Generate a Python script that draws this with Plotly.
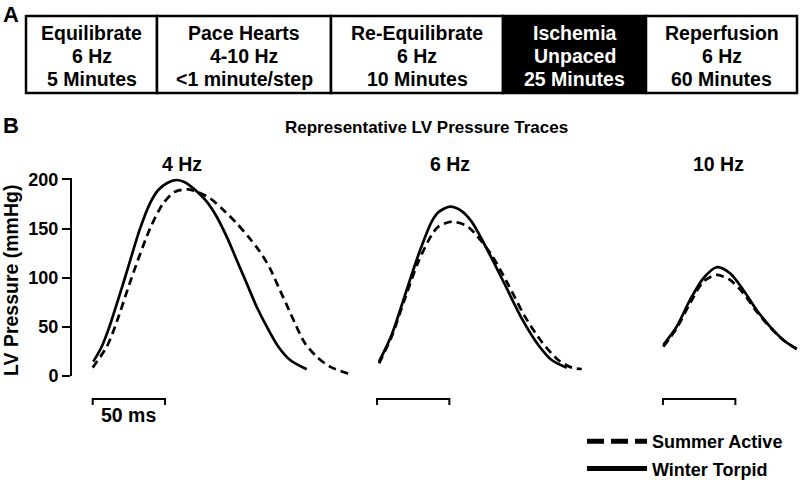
import plotly.graph_objects as go

# ---------------- data ----------------
# Protocol timeline (panel A)
STAGE_NAMES = ["Equilibrate", "Pace Hearts", "Re-Equilibrate", "Ischemia", "Reperfusion"]
STAGE_RATES = ["6 Hz", "4-10 Hz", "6 Hz", "Unpaced", "6 Hz"]
STAGE_DURATIONS = ["5 Minutes", "<1 minute/step", "10 Minutes", "25 Minutes", "60 Minutes"]
STAGE_HIGHLIGHT = [False, False, False, True, False]

# Pressure traces (panel B): time (ms) and LV pressure (mmHg)
PANEL_LABELS = ["4 Hz", "6 Hz", "10 Hz"]
SERIES_NAMES = ["Summer Active", "Winter Torpid"]

sa_4hz_t = [0, 9.7, 15.4, 26.9, 39.6, 48.8, 56.9, 66.1, 71.9, 81.1, 90.3, 99.5, 107.5, 115.6, 122.5,
            128.3, 134.1, 139.8, 146.7, 154.8, 164, 177.8]
sa_4hz_p = [8.5, 29.8, 50, 100, 150, 175.8, 187.6, 190, 187.6, 180.9, 169, 155.4, 141.8, 126.5, 109.6,
            90.9, 72.3, 53.6, 33.3, 19.6, 9.5, 2]
wt_4hz_t = [0.4, 6.2, 11.5, 22.3, 32.7, 39.6, 45.3, 51.5, 58, 64, 69.5, 78.8, 85.7, 92.6, 99.5, 106.4,
            113.3, 120.3, 128.3, 136.4, 147.9]
wt_4hz_p = [14.6, 29.8, 50, 100, 150, 175.8, 189.3, 196.5, 199.5, 197, 191, 177.4, 162.1, 141.8, 118.1,
            94.4, 70.5, 50.2, 29.8, 16.3, 6.8]

sa_6hz_t = [1.4, 10.1, 19.4, 28.6, 37.8, 42.4, 51.6, 60.8, 65.4, 79.2, 90.8, 102.3, 113.8, 125.3, 134.6,
            141.5]
sa_6hz_p = [12.9, 40, 79.1, 116.4, 143.6, 152, 157.1, 153.7, 148.7, 123.2, 92.7, 60.4, 34.9, 16.3, 8.5,
            7.1]
wt_6hz_t = [1.4, 10.1, 19.4, 28.6, 37.8, 42.4, 50.4, 58.5, 65.4, 76.9, 88.5, 100, 111.5, 120.7, 131.1]
wt_6hz_p = [14.6, 41.8, 82.5, 123.2, 157.1, 166.6, 172.4, 167.9, 157.1, 126.6, 92.7, 58.7, 31.6, 16.3,
            8.5]

sa_10hz_t = [0.2, 9.4, 18.7, 27.9, 37.1, 46.3, 55.5, 64.7, 74, 83.1, 92.4]
sa_10hz_p = [29.8, 48.6, 74, 96, 102.9, 97.8, 84.2, 65.5, 49.6, 36.7, 27.5]
wt_10hz_t = [0.2, 9.4, 18.7, 27.9, 37.1, 46.3, 55.5, 64.7, 74, 83.1, 92.4]
wt_10hz_p = [31.6, 50.2, 77.4, 99.5, 110.7, 104.6, 87.6, 67.2, 50.2, 36.7, 27.5]

Y_TICKS = [0, 50, 100, 150, 200]
SCALE_BAR_MS = 50

# ---------------- layout constants (pixels) ----------------
W, H = 800, 480
FONT = "Liberation Sans, Arial, Helvetica, sans-serif"
PX_PER_MS = 1.447
PX_PER_MMHG = 0.9825
Y0_PX = 376.0                     # pixel row of 0 mmHg
Y_RANGE = [-0.5, 202]
PANEL_DOMAINS_PX = [(72, 360), (370, 592), (655, 800)]
PANEL_ORIGINS_PX = [92.7, 377.0, 663.0]
PANEL_LABEL_X = [182, 450, 718]
BIG = 19.5


def px(x):
    return x / W


def py(y):
    return 1 - y / H


def bold(size, color="black"):
    return dict(family=FONT, size=size, weight="bold", color=color)


fig = go.Figure()

axis_names = ["x", "x2", "x3"]
sa_t = [sa_4hz_t, sa_6hz_t, sa_10hz_t]
sa_p = [sa_4hz_p, sa_6hz_p, sa_10hz_p]
wt_t = [wt_4hz_t, wt_6hz_t, wt_10hz_t]
wt_p = [wt_4hz_p, wt_6hz_p, wt_10hz_p]

for i in range(3):
    fig.add_trace(go.Scatter(x=sa_t[i], y=sa_p[i], mode="lines", xaxis=axis_names[i], yaxis="y",
                             line=dict(color="black", width=2.7, dash="8px,5px", shape="spline", smoothing=0.8),
                             showlegend=False, hoverinfo="skip"))
    fig.add_trace(go.Scatter(x=wt_t[i], y=wt_p[i], mode="lines", xaxis=axis_names[i], yaxis="y",
                             line=dict(color="black", width=2.7, shape="spline", smoothing=0.8),
                             showlegend=False, hoverinfo="skip"))

# legend entries
fig.add_trace(go.Scatter(x=[None], y=[None], mode="lines", name=SERIES_NAMES[0], legendgroup="a",
                         line=dict(color="black", width=5, dash="17px,7px")))
fig.add_trace(go.Scatter(x=[None], y=[None], mode="lines", name=SERIES_NAMES[1], legendgroup="b",
                         line=dict(color="black", width=5)))

y_bottom_px = Y0_PX - Y_RANGE[0] * PX_PER_MMHG
y_top_px = Y0_PX - Y_RANGE[1] * PX_PER_MMHG
ydom = [py(y_bottom_px), py(y_top_px)]

layout_axes = {}
for i, (dom, org) in enumerate(zip(PANEL_DOMAINS_PX, PANEL_ORIGINS_PX)):
    rng = [(dom[0] - org) / PX_PER_MS, (dom[1] - org) / PX_PER_MS]
    key = "xaxis" if i == 0 else f"xaxis{i + 1}"
    layout_axes[key] = dict(domain=[px(dom[0]), px(dom[1])], range=rng, visible=False,
                            anchor="y", fixedrange=True)

fig.update_layout(**layout_axes)
fig.update_layout(
    yaxis=dict(domain=ydom, range=Y_RANGE, anchor="x", tickvals=Y_TICKS, ticks="outside",
               ticklen=8, tickwidth=2, tickcolor="black", showline=True, linewidth=2,
               linecolor="black", showgrid=False, zeroline=False, fixedrange=True,
               tickfont=bold(18), automargin=False),
    width=W, height=H, margin=dict(l=0, r=0, t=0, b=0, autoexpand=False),
    plot_bgcolor="white", paper_bgcolor="white",
    showlegend=True,
    legend=dict(x=px(582), xanchor="left", y=py(423), yanchor="top",
                xref="container", yref="container", bgcolor="rgba(0,0,0,0)",
                font=bold(18), itemwidth=60, tracegroupgap=1),
)

annotations = []
shapes = []

# ---- Panel A: protocol boxes ----
BOX_EDGES_PX = [26, 157, 331, 503, 646, 797]
BOX_TOP_PX, BOX_BOTTOM_PX = 16, 93
ROW_Y_PX = [33, 56, 79]
for i in range(len(STAGE_NAMES)):
    x0, x1 = BOX_EDGES_PX[i], BOX_EDGES_PX[i + 1]
    hl = STAGE_HIGHLIGHT[i]
    shapes.append(dict(type="rect", xref="paper", yref="paper", x0=px(x0), x1=px(x1),
                       y0=py(BOX_BOTTOM_PX), y1=py(BOX_TOP_PX),
                       line=dict(color="black", width=2.5),
                       fillcolor="black" if hl else "white", layer="below"))
    for txt, ry in zip([STAGE_NAMES[i], STAGE_RATES[i], STAGE_DURATIONS[i]], ROW_Y_PX):
        annotations.append(dict(text=txt, xref="paper", yref="paper", x=px((x0 + x1) / 2),
                                y=py(ry), xanchor="center", yanchor="middle", showarrow=False,
                                font=bold(BIG, "white" if hl else "black")))

# panel letters
annotations.append(dict(text="A", xref="paper", yref="paper", x=px(1), y=1, xanchor="left",
                        yanchor="top", showarrow=False, font=bold(22)))
annotations.append(dict(text="B", xref="paper", yref="paper", x=px(1), y=py(126), xanchor="left",
                        yanchor="middle", showarrow=False, font=bold(22)))

# title
annotations.append(dict(text="Representative LV Pressure Traces", xref="paper", yref="paper",
                        x=px(427), y=py(128), xanchor="center", yanchor="middle", showarrow=False,
                        font=bold(17)))

# panel labels
for lbl, lx in zip(PANEL_LABELS, PANEL_LABEL_X):
    annotations.append(dict(text=lbl, xref="paper", yref="paper", x=px(lx), y=py(164),
                            xanchor="center", yanchor="middle", showarrow=False, font=bold(BIG)))

# y-axis title
annotations.append(dict(text="LV Pressure (mmHg)", xref="paper", yref="paper", x=px(11), y=py(281),
                        xanchor="center", yanchor="middle", textangle=-90, showarrow=False,
                        font=bold(BIG)))

# scale bars
BAR_TOP_PX, BAR_BOTTOM_PX = 399, 405
for xa in axis_names:
    shapes.append(dict(type="path", xref=xa, yref="paper",
                       path=f"M 0,{py(BAR_BOTTOM_PX)} L 0,{py(BAR_TOP_PX)} L {SCALE_BAR_MS},{py(BAR_TOP_PX)} L {SCALE_BAR_MS},{py(BAR_BOTTOM_PX)}",
                       line=dict(color="black", width=2)))
annotations.append(dict(text=f"{SCALE_BAR_MS} ms", xref="x", yref="paper", x=SCALE_BAR_MS / 2,
                        y=py(415), xanchor="center", yanchor="middle", showarrow=False,
                        font=bold(BIG)))

fig.update_layout(annotations=annotations, shapes=shapes)
fig.write_html("out.html", config={"displayModeBar": False},
               post_script="document.body.style.margin='0px';")
